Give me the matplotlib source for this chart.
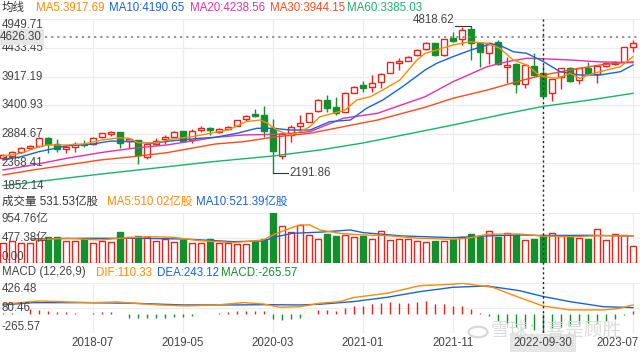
import matplotlib
matplotlib.use("Agg")
import matplotlib.pyplot as plt
from matplotlib.lines import Line2D
from matplotlib.patches import Circle

plt.rcParams['font.family'] = ['Liberation Sans', 'Noto Sans CJK SC']

# monthly candles, 2017-09 .. 2023-07 (71 bars)
opens = [2461, 2497, 2568, 2641, 2676, 2824, 2712, 2622, 2658, 2712,
         2712, 2831, 2891, 2921, 2771, 2784, 2484, 2712, 2796, 2842,
         2944, 2783, 2962, 2998, 2921, 2980, 3039, 3154, 3249, 3231,
         2993, 2497, 2873, 3034, 3111, 3302, 3499, 3369, 3290, 3630,
         3768, 3727, 3827, 3988, 4167, 4203, 4305, 4407, 4515, 4305,
         4604, 4586, 4765, 4515, 4346, 4532, 4096, 4144, 3780, 4108,
         3977, 3619, 3906, 4067, 3857, 4067, 3960, 4108, 4144, 4185,
         4443]
closes = [2515, 2563, 2641, 2676, 2814, 2712, 2628, 2653, 2712, 2688,
          2814, 2903, 2921, 2724, 2800, 2515, 2712, 2771, 2842, 2932,
          2771, 2944, 2998, 2962, 2980, 3021, 3141, 3218, 3213, 2950,
          2592, 2891, 3021, 3093, 3261, 3499, 3350, 3261, 3630, 3737,
          3719, 3798, 3965, 4174, 4198, 4275, 4394, 4515, 4305, 4586,
          4561, 4753, 4515, 4364, 4515, 4144, 4126, 3780, 4126, 3947,
          3571, 3870, 4067, 3839, 4067, 3977, 4108, 4167, 4185, 4443,
          4515]
highs = [2530, 2580, 2655, 2694, 2830, 2835, 2801, 2688, 2747, 2783,
         2842, 2915, 2944, 2935, 2810, 2790, 2725, 2814, 2873, 2940,
         2950, 2975, 3034, 3021, 2990, 3030, 3150, 3230, 3333, 3392,
         3154, 2910, 3052, 3231, 3275, 3510, 3589, 3548, 3640, 3750,
         3845, 3947, 3975, 4185, 4246, 4290, 4410, 4530, 4525, 4600,
         4722, 4812, 4818.62, 4530, 4530, 4574, 4275, 4155, 4140, 4336,
         4126, 3880, 4080, 4096, 4080, 4185, 4120, 4180, 4200, 4455,
         4574]
lows = [2445, 2485, 2555, 2630, 2665, 2545, 2574, 2545, 2574, 2663,
        2700, 2814, 2855, 2635, 2635, 2354, 2438, 2700, 2712, 2835,
        2765, 2724, 2932, 2873, 2905, 2960, 3030, 3120, 3200, 2842,
        2191.86, 2438, 2753, 2950, 3100, 3290, 3290, 3231, 3280, 3620,
        3648, 3648, 3709, 3975, 4036, 4190, 4290, 4395, 4290, 4290,
        4543, 4484, 4216, 4096, 4138, 4130, 3798, 3619, 3709, 3935,
        3560, 3482, 3691, 3825, 3780, 3965, 3798, 4090, 4130, 4175,
        4364]

# volume, 100 million shares
volumes = [386, 418, 386, 386, 437, 500, 488, 424, 424, 450,
           386, 418, 405, 595, 488, 513, 500, 418, 456, 405,
           437, 386, 386, 450, 386, 374, 361, 361, 393, 456,
           954.76, 709, 595, 722, 532, 450, 551, 513, 532, 488,
           519, 450, 602, 437, 450, 450, 412, 393, 424, 412,
           450, 488, 551, 500, 602, 488, 564, 532, 437, 456,
           531.53, 564, 513, 488, 469, 450, 640, 437, 551, 526,
           323]

# moving averages (bar index, value)
ma5_x = [0, 2, 3, 4, 5, 7, 9, 11, 13, 14, 15, 17, 19, 21, 23, 25, 27, 28.6, 29.4,
         30.4, 31.9, 33, 34.1, 35.2, 36.7, 38, 39.3, 40.8, 42.2, 44.1, 46, 46.9,
         48.2, 50, 51.9, 53.8, 55.2, 56.7, 58.2, 59.3, 60, 61.6, 63, 64.1, 65.6,
         67.1, 68.6, 70]
ma5_y = [2497, 2545, 2604, 2663, 2694, 2694, 2712, 2783, 2824, 2814, 2735, 2735,
         2806, 2842, 2903, 2962, 3111, 3141, 3082, 2962, 2873, 2932, 3021, 3200,
         3261, 3320, 3499, 3558, 3678, 3858, 4215, 4335, 4395, 4484, 4543, 4515,
         4425, 4215, 4126, 3977, 3917.69, 3888, 3977, 3888, 3977, 4037, 4096, 4275]
ma10_x = [0, 2, 4, 7, 10, 12, 14.4, 16.7, 18.9, 21.9, 23.6, 26, 28.2, 30, 31.9,
          34.1, 36.3, 38.6, 40.4, 42.2, 44.4, 46.9, 48.2, 50, 52, 53.8, 54.9,
          56.7, 58.2, 60, 61.9, 64.1, 66.3, 68.6, 70]
ma10_y = [2425, 2484, 2574, 2676, 2712, 2765, 2753, 2724, 2771, 2814, 2832, 2903,
          2993, 2993, 2962, 2962, 3111, 3141, 3351, 3499, 3738, 4037, 4157, 4275,
          4395, 4484, 4502, 4364, 4335, 4190.65, 4006, 3947, 3947, 4006, 4126]
ma20_x = [0, 3.3, 7.1, 10.8, 14.4, 18.2, 23.6, 26.7, 30.4, 34.1, 37.8, 41.6,
          46.9, 50, 53.8, 56, 58.2, 60, 63, 66, 70]
ma20_y = [2246, 2336, 2456, 2556, 2635, 2694, 2832, 2873, 2885, 2932, 3172, 3261,
          3558, 3827, 4096, 4185, 4246, 4238.56, 4216, 4185, 4167]
ma30_x = [0, 3.3, 7.1, 10.8, 14.4, 18.2, 23.6, 26.7, 30.4, 34.1, 37.8, 41.6,
          46.9, 50, 53.8, 57.4, 60, 63, 66.3, 70]
ma30_y = [2157, 2246, 2336, 2425, 2484, 2556, 2712, 2753, 2842, 2903, 3021, 3141,
          3369, 3530, 3678, 3840, 3944.15, 4037, 4126, 4185]
ma60_x = [0, 10, 23.3, 30, 35.2, 40, 46.3, 50, 55.2, 60, 65.2, 70]
ma60_y = [1965, 2157, 2395, 2497, 2604, 2730, 2932, 3052, 3231, 3385.03, 3499, 3619]

vma5_x = [3.2, 7.1, 10.8, 13.8, 16.3, 18.9, 21.9, 25.6, 28.9, 30.4, 31.9, 33,
          34.1, 35.2, 37.4, 40, 42.7, 46.3, 50, 51.6, 53.8, 57.4, 60, 63.3, 66.7, 70]
vma5_y = [437, 469, 437, 481, 500, 488, 424, 386, 437, 564, 659, 722, 722, 627,
          564, 532, 519, 469, 450, 469, 545, 551, 510.02, 500, 519, 513]
vma10_x = [3.2, 8.9, 14.4, 20, 25.6, 28.9, 30.4, 32.2, 35.2, 38.6, 40, 44.4, 50,
           53.8, 57.4, 60, 64.9, 70]
vma10_y = [456, 469, 469, 456, 405, 418, 500, 564, 585, 627, 576, 513, 481, 513,
           532, 521.39, 526, 513]

# MACD (12,26,9)
dif_x = [0, 1.9, 4.1, 7.1, 10, 12.7, 14.4, 17.4, 20.4, 23.8, 26.7, 28.9, 30.8,
         33, 35.2, 37.4, 38.9, 42.7, 46.3, 50, 51.1, 53, 54.4, 57.4, 60, 63, 66.7,
         68.6, 70]
dif_y = [139, 157, 181, 167, 157, 167, 149, 125, 111, 125, 157, 139, 93, 101, 149,
         171, 227, 288, 393, 413, 426.48, 393, 371, 227, 110.33, 56, 56, 79, 125]
dea_x = [0, 3.3, 8.9, 14.4, 20, 25.6, 29.3, 33, 35.2, 38.9, 42.7, 46.3, 50, 53.8,
         57.4, 60, 63, 66.7, 70]
dea_y = [125, 157, 157, 149, 125, 125, 129, 125, 135, 171, 232, 310, 371, 389,
         324, 243.12, 171, 101, 88]
macd_hist = [8, 6, 4, 65, 56, 46, 32, 23, 18, 3,
             18, 28, 32, -3, -55, -60, -60, -55, -50, -45,
             -40, -30, -5, 3, 6, 25, 35, 42, 42, 35,
             -70, -80, -75, -55, -5, 56, 56, 46, 79, 111,
             111, 139, 148, 162, 157, 157, 162, 185, 139, 139,
             111, 111, 65, 19, -28, -97, -130, -176, -199, -222,
             -265.57, -199, -176, -153, -144, -130, -120, -93, -74, -14,
             46]

tick_pos = [10, 20, 30, 40, 50]
tick_labels = ['2018-07', '2019-05', '2020-03', '2021-01', '2021-11']
last_label = '2023-07'
cross_label = '2022-09-30'
price_ticks = [1852.14, 2368.41, 2884.67, 3400.93, 3917.19, 4433.45, 4949.71]
vol_ticks = [0, 477.38, 954.76]
macd_ticks = [-265.57, 80.46, 426.48]

RED = '#e8231c'
GREEN = '#138f2c'
C_MA5 = '#ff8a00'
C_MA10 = '#1565d8'
C_MA20 = '#e62fa8'
C_MA30 = '#ff4a1c'
C_MA60 = '#16b36b'
GRID = '#ececec'
TXT = '#444444'

W, H = 640, 354
fig = plt.figure(figsize=(W / 100, H / 100), dpi=100)


def px_axes(x0, y0, x1, y1):
    ax = fig.add_axes([x0 / W, 1 - y1 / H, (x1 - x0) / W, (y1 - y0) / H])
    ax.set_xlim(-1 / 3, 70.78)
    for s in ax.spines.values():
        s.set_visible(False)
    ax.set_xticks([])
    ax.set_yticks([])
    for t in tick_pos + [60, 70]:
        ax.axvline(t, color=GRID, lw=0.9, zorder=0)
    return ax


def ftext(x, y, s, color=TXT, size=8.3, **kw):
    return fig.text(x / W, 1 - y / H, s, color=color, fontsize=size, va='center', **kw)


def ylabels(ax, ticks, names):
    for k, v in enumerate(ticks):
        ax.axhline(v, color=GRID, lw=0.9, zorder=0)
        va = 'bottom' if k == 0 else ('top' if k == len(ticks) - 1 else 'center')
        ax.text(0.003, v, names[k], transform=ax.get_yaxis_transform(),
                ha='left', va=va, fontsize=8.3, color=TXT, zorder=6)


x = list(range(len(opens)))
up = [c >= o for o, c in zip(opens, closes)]

# ---- price panel
ax1 = px_axes(0, 19, 640, 192)
ax1.set_ylim(1852.14, 4949.71)
ylabels(ax1, price_ticks, ['%.2f' % v for v in price_ticks])

for i in x:
    col = RED if up[i] else GREEN
    lo_b, hi_b = min(opens[i], closes[i]), max(opens[i], closes[i])
    ax1.plot([i, i], [hi_b, highs[i]], color=col, lw=1, zorder=2, solid_capstyle='butt')
    ax1.plot([i, i], [lows[i], lo_b], color=col, lw=1, zorder=2, solid_capstyle='butt')
    ax1.bar(i, max(hi_b - lo_b, 8), bottom=lo_b, width=0.64,
            facecolor='white' if up[i] else GREEN, edgecolor=col, lw=1, zorder=3)

ax1.plot(ma60_x, ma60_y, color=C_MA60, lw=1, zorder=4)
ax1.plot(ma30_x, ma30_y, color=C_MA30, lw=1, zorder=4)
ax1.plot(ma20_x, ma20_y, color=C_MA20, lw=1, zorder=4)
ax1.plot(ma10_x, ma10_y, color=C_MA10, lw=1, zorder=4)
ax1.plot(ma5_x, ma5_y, color=C_MA5, lw=1, zorder=4)

# high / low markers
ax1.plot([50.2, 52], [4818.62, 4818.62], color='#333333', lw=0.8, zorder=5)
ax1.text(50.1, 4818.62, '4818.62', ha='right', va='bottom', fontsize=8.3, color=TXT)
ax1.plot([30, 31.7], [2191.86, 2191.86], color='#333333', lw=0.8, zorder=5)
ax1.text(31.8, 2191.86, '2191.86', ha='left', va='center', fontsize=8.3, color=TXT)

# crosshair horizontal
ax1.plot([4.7, 70.78], [4626.30, 4626.30], color='#8a8a8a', lw=1.3,
         ls=(0, (1.2, 2.2)), zorder=5)
ax1.text(0.0, 4626.30, '4626.30', transform=ax1.get_yaxis_transform(), ha='left',
         va='center', fontsize=8.3, color=TXT, zorder=7,
         bbox=dict(facecolor='#e6e6e6', edgecolor='none', pad=1.6))

# ---- volume panel
ax2 = px_axes(0, 212.7, 640, 263)
ax2.set_ylim(0, 954.76)
ylabels(ax2, vol_ticks, ['0.00', '477.38亿', '954.76亿'])
for i in x:
    col = RED if up[i] else GREEN
    ax2.bar(i, volumes[i], width=0.64, facecolor='white' if up[i] else GREEN,
            edgecolor=col, lw=1, zorder=3)
ax2.plot(vma10_x, vma10_y, color=C_MA10, lw=1, zorder=4)
ax2.plot(vma5_x, vma5_y, color=C_MA5, lw=1, zorder=4)

# ---- MACD panel
ax3 = px_axes(0, 283.3, 640, 333)
ax3.set_ylim(-265.57, 426.48)
ylabels(ax3, macd_ticks, ['%.2f' % v for v in macd_ticks])
for i in x:
    ax3.plot([i, i], [0, macd_hist[i]], color=RED if macd_hist[i] >= 0 else GREEN,
             lw=1, zorder=3, solid_capstyle='butt')
ax3.plot(dea_x, dea_y, color=C_MA10, lw=1, zorder=4)
ax3.plot(dif_x, dif_y, color=C_MA5, lw=1, zorder=4)

# ---- headers
ftext(2, 8, '均线', color='#333333')
ftext(36, 8, 'MA5:3917.69', color=C_MA5)
ftext(109, 8, 'MA10:4190.65', color=C_MA10)
ftext(190, 8, 'MA20:4238.56', color=C_MA20)
ftext(270, 8, 'MA30:3944.15', color=C_MA30)
ftext(347, 8, 'MA60:3385.03', color=C_MA60)

ftext(2, 202, '成交量 531.53亿股', color='#333333')
ftext(107, 202, 'MA5:510.02亿股', color=C_MA5)
ftext(196, 202, 'MA10:521.39亿股', color=C_MA10)

ftext(2, 272.5, 'MACD (12,26,9)', color='#444444')
ftext(96, 272.5, 'DIF:110.33', color=C_MA5)
ftext(157, 272.5, 'DEA:243.12', color=C_MA10)
ftext(221, 272.5, 'MACD:-265.57', color=GREEN)

# x axis labels
for p, lab in zip(tick_pos, tick_labels):
    ftext(3 + 9 * p, 343, lab, ha='center')
ftext(639, 343, last_label, ha='right')
ftext(543, 343, cross_label, ha='center', zorder=10,
      bbox=dict(facecolor='#e6e6e6', edgecolor='none', pad=2.2))

# crosshair vertical
fig.add_artist(Line2D([543 / W, 543 / W], [1 - 19 / H, 1 - 333 / H], color='#222222',
                      lw=1, ls=(0, (1.5, 2)), zorder=8))

# watermark
fig.add_artist(Circle((478 / W, 1 - 332 / H), 9.5 / W, transform=fig.transFigure,
                      fill=False, ec='#d8d8d8', lw=1.6, zorder=11))
ftext(556, 331, '雪球：喜是顾胜', color='#d8d8d8', size=13.5, ha='center', zorder=11,
      alpha=0.9)

fig.savefig('out.png', dpi=100)
